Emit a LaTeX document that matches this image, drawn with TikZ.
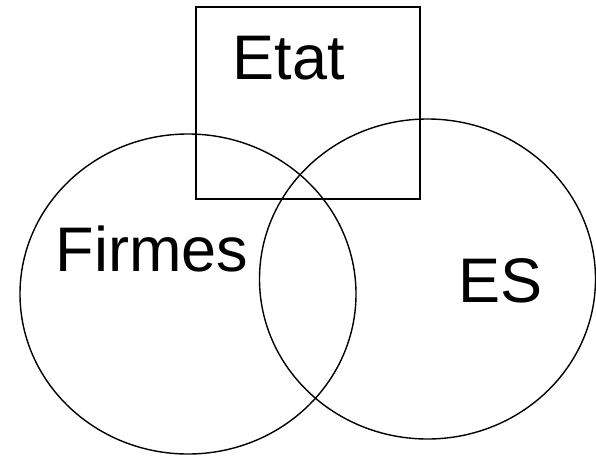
\documentclass[tikz,border=0pt]{standalone}
\usepackage{fontspec}
\setmainfont{Liberation Sans}
\usetikzlibrary{shapes.geometric}
\begin{document}
\begin{tikzpicture}[x=1pt,y=-1pt,
  shapeline/.style={draw=black,line width=1.4pt,inner sep=0pt,outer sep=0pt},
  oval/.style={shapeline,ellipse,minimum width=336pt,minimum height=320pt},
  lbl/.style={font=\fontsize{63}{70}\selectfont,inner sep=0pt,anchor=base west}]
\useasboundingbox (0,0) rectangle (596,455);
\node[shapeline,rectangle,minimum width=224pt,minimum height=192pt] (etatbox) at (308,103) {};
\node[oval] (firmes) at (188,294) {};
\node[oval] (es) at (427.5,279) {};
\node[lbl] (etat) at (232.5,79) {Etat};
\node[lbl] (firmeslbl) at (55.5,271) {Firmes};
\node[lbl] (eslbl) at (458.5,302) {ES};
\end{tikzpicture}
\end{document}
